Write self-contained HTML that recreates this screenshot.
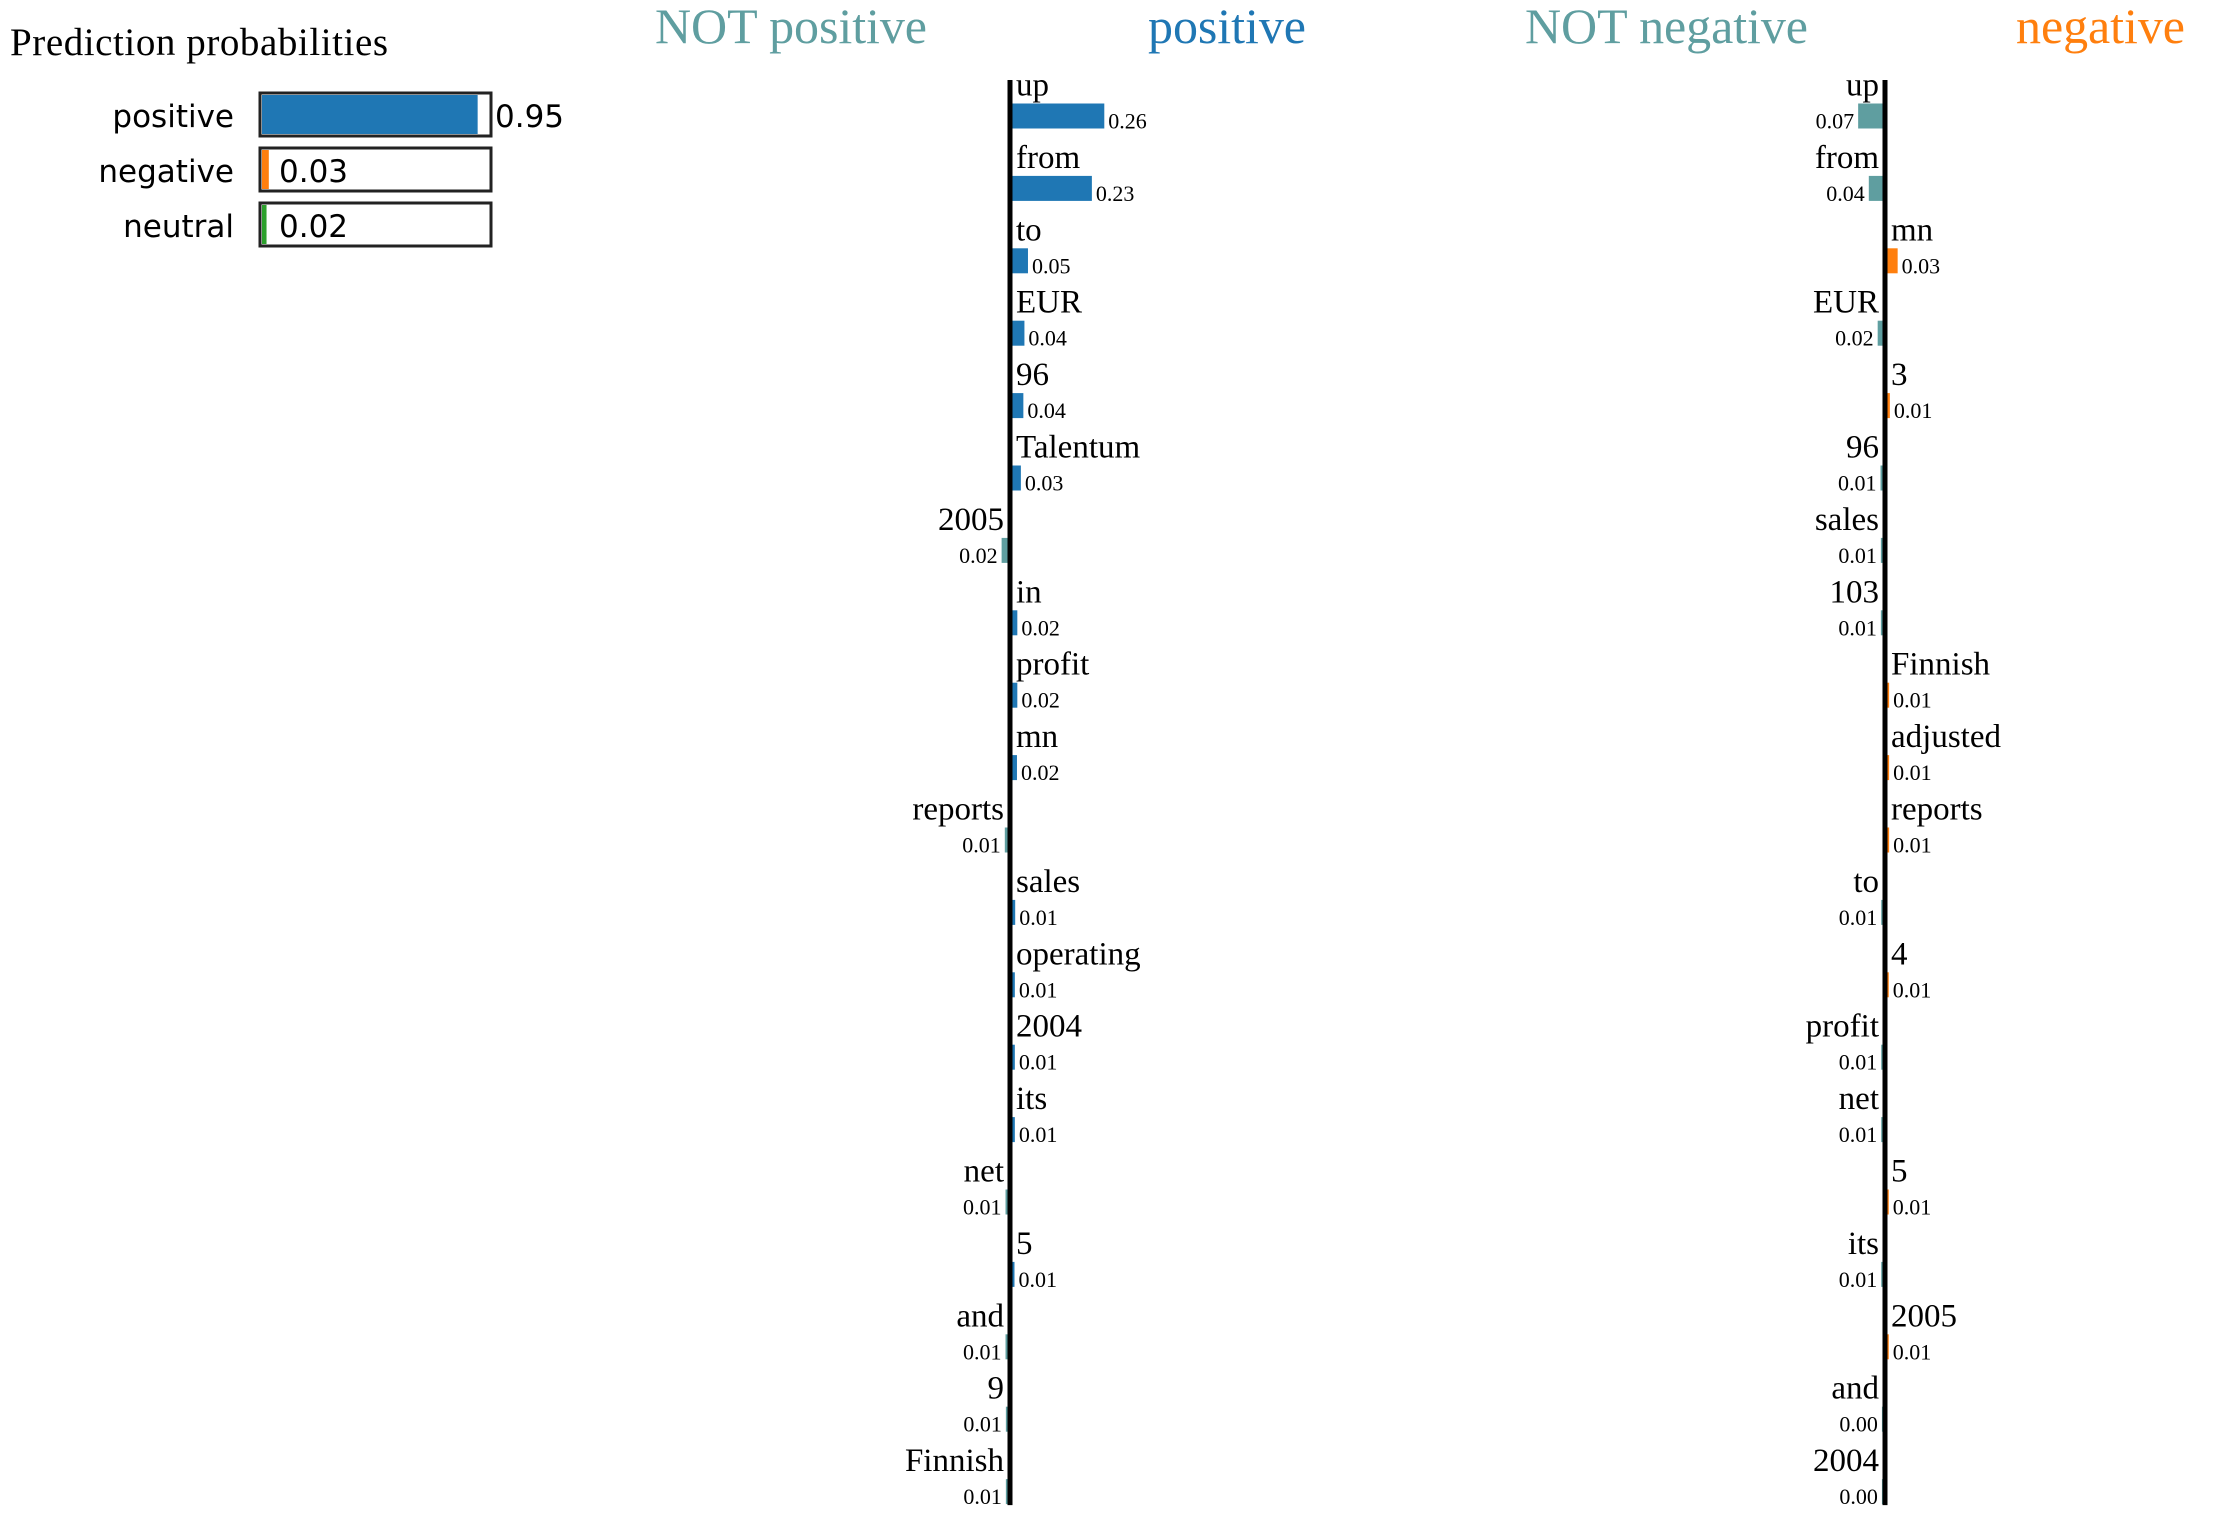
<!DOCTYPE html>
<html><head><meta charset="utf-8"><style>
html,body{margin:0;padding:0;background:#fff;}
svg{display:block;}
.serif{font-family:"Liberation Serif",serif;}
.sans{font-family:"DejaVu Sans","Liberation Sans",sans-serif;}
</style></head>
<body>
<svg id="chart" width="2232" height="1520" viewBox="0 0 2232 1520">
  <text class="serif" x="10" y="55" font-size="39" fill="#000" textLength="378">Prediction probabilities</text>
  <g id="probs"></g>
  <text class="serif" x="655" y="43" font-size="50" fill="#5f9ea0" textLength="272">NOT positive</text>
  <text class="serif" x="1148" y="43" font-size="50" fill="#1f77b4" textLength="158">positive</text>
  <text class="serif" x="1525" y="43" font-size="50" fill="#5f9ea0" textLength="283">NOT negative</text>
  <text class="serif" x="2016" y="43" font-size="50" fill="#ff7f0e" textLength="169">negative</text>
  <g id="chartPos"></g>
  <g id="chartNeg"></g>
</svg>
<script>
const probClasses = ["positive","negative","neutral"];
const probValues = [0.95,0.03,0.02];
const probColors = ["#1f77b4","#ff7f0e","#2ca02c"];

const posWords = ["up","from","to","EUR","96","Talentum","2005","in","profit","mn","reports","sales","operating","2004","its","net","5","and","9","Finnish"];
const posValues = [0.26,0.225,0.045,0.035,0.032,0.025,-0.018,0.015,0.015,0.014,-0.009,0.009,0.008,0.008,0.008,-0.007,0.007,-0.007,-0.006,-0.006];
const posLabels = ["0.26","0.23","0.05","0.04","0.04","0.03","0.02","0.02","0.02","0.02","0.01","0.01","0.01","0.01","0.01","0.01","0.01","0.01","0.01","0.01"];

const negWords = ["up","from","mn","EUR","3","96","sales","103","Finnish","adjusted","reports","to","4","profit","net","5","its","2005","and","2004"];
const negValues = [-0.07,-0.04,0.03,-0.015,0.008,-0.007,-0.006,-0.006,0.006,0.006,0.006,-0.005,0.005,-0.005,-0.005,0.005,-0.005,0.005,-0.003,-0.003];
const negLabels = ["0.07","0.04","0.03","0.02","0.01","0.01","0.01","0.01","0.01","0.01","0.01","0.01","0.01","0.01","0.01","0.01","0.01","0.01","0.00","0.00"];

const NS="http://www.w3.org/2000/svg";
function mk(tag,attrs,parent){const e=document.createElementNS(NS,tag);for(const k in attrs)e.setAttribute(k,attrs[k]);parent.appendChild(e);return e;}

const pg=document.getElementById("probs");
const boxX=260, boxW=231, boxH=43, boxY0=93, boxStep=55;
const probScale=v=>v*(boxW-4);
probClasses.forEach((c,i)=>{
  const y=boxY0+i*boxStep;
  const lab=mk("text",{x:234,y:y+34,"font-size":31,"text-anchor":"end",class:"sans",fill:"#000"},pg);
  lab.textContent=c;
  
  
  const bar=mk("rect",{x:boxX+2,y:y+2,width:probScale(probValues[i]),height:boxH-4,fill:probColors[i]},pg);
  
  
  const box=mk("rect",{x:boxX,y:y,width:boxW,height:boxH,fill:"none",stroke:"#222","stroke-width":3},pg);
  
  
  const w=probScale(probValues[i]);
  const inside = w>boxW/2;
  const vt=mk("text",{x: inside? boxX+boxW+4 : boxX+19, y:y+34,"font-size":31,class:"sans",fill:"#000"},pg);
  vt.textContent=probValues[i].toFixed(2);
  
  
});

function drawChart(g,axisX,words,values,labels,posColor,negColor){
  const top=103.5, step=72.4, barH=25, scale=355;
  const xs=v=>v*scale;
  const n=words.length;
  words.forEach((w,i)=>{
    const v=values[i];
    const y=top+i*step;
    const right=v>=0;
    const bw=Math.abs(xs(v));
    const bar=mk("rect",{x: right? axisX+2 : axisX-2-bw, y:y, width:bw, height:barH, fill: right?posColor:negColor},g);
    
    
    const wt=mk("text",{x: right? axisX+6 : axisX-6, y:y-8,"font-size":33,class:"serif","text-anchor": right?"start":"end",fill:"#000"},g);
    wt.textContent=w;
    
    
    const vt=mk("text",{x: right? axisX+2+bw+4 : axisX-2-bw-4, y:y+barH,"font-size":22,class:"serif","text-anchor": right?"start":"end",fill:"#000"},g);
    vt.textContent=labels[i];
    
    
  });
  const ax=mk("line",{x1:axisX,x2:axisX,y1:80,y2:top+(n-1)*step+barH+1,stroke:"#000","stroke-width":5},g);
  
  
}
drawChart(document.getElementById("chartPos"),1010,posWords,posValues,posLabels,"#1f77b4","#5f9ea0");
drawChart(document.getElementById("chartNeg"),1885,negWords,negValues,negLabels,"#ff7f0e","#5f9ea0");
</script>
</body></html>
